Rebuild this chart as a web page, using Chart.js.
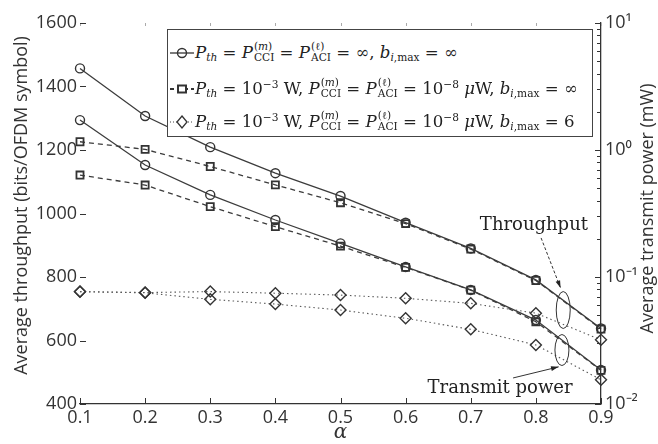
<!DOCTYPE html>
<html>
<head>
<meta charset="utf-8">
<script src="https://cdn.jsdelivr.net/npm/chart.js@4.4.1/dist/chart.umd.min.js"></script>
<style>
  body { margin: 0; background: #fff; }
  #wrap { position: relative; width: 658px; height: 444px; }
  #legend {
    position: absolute; left: 167px; top: 29px; width: 426px; height: 108px;
    box-sizing: border-box; border: 1px solid #444; background: #fff;
    font-family: 'DejaVu Serif', serif; font-size: 16.6px; color: #222;
  }
  #legend .row { position: absolute; left: 2px; line-height: 22px; white-space: nowrap; }
  #legend svg { vertical-align: middle; margin-right: 1px; }
  .ss { display: inline-block; vertical-align: -0.32em; font-size: 0.64em; line-height: 1.05; margin-left: 1px; }
  .ss span { display: block; }
  .sb { font-size: 0.64em; vertical-align: -0.3em; }
  .sp { font-size: 0.64em; vertical-align: 0.55em; }
</style>
</head>
<body>
<div id="wrap">
  <canvas id="chart"></canvas>
  <div id="legend">
    <div class="row" style="top:11px">
      <svg width="24" height="14"><line x1="0" y1="7" x2="24" y2="7" stroke="#333" stroke-width="1.3"/><circle cx="12" cy="7" r="4.5" fill="none" stroke="#333" stroke-width="1.4"/></svg><i>P</i><span class="sb"><i>th</i></span> = <i>P</i><span class="ss"><span>(<i>m</i>)</span><span>CCI</span></span> = <i>P</i><span class="ss"><span>(ℓ)</span><span>ACI</span></span> = ∞, <i>b</i><span class="sb"><i>i</i>,max</span> = ∞
    </div>
    <div class="row" style="top:44px">
      <svg width="24" height="14"><line x1="0" y1="7" x2="24" y2="7" stroke="#333" stroke-width="2" stroke-dasharray="4,3"/><rect x="8" y="3.5" width="8" height="7" fill="#fff" stroke="#333" stroke-width="2"/></svg><i>P</i><span class="sb"><i>th</i></span> = 10<span class="sp">−3</span> W, <i>P</i><span class="ss"><span>(<i>m</i>)</span><span>CCI</span></span> = <i>P</i><span class="ss"><span>(ℓ)</span><span>ACI</span></span> = 10<span class="sp">−8</span> <i>μ</i>W, <i>b</i><span class="sb"><i>i</i>,max</span> = ∞
    </div>
    <div class="row" style="top:77px">
      <svg width="24" height="14"><line x1="0" y1="7" x2="24" y2="7" stroke="#444" stroke-width="1.2" stroke-dasharray="1,2"/><polygon points="12,1 17,7 12,13 7,7" fill="#fff" stroke="#333" stroke-width="1.3"/></svg><i>P</i><span class="sb"><i>th</i></span> = 10<span class="sp">−3</span> W, <i>P</i><span class="ss"><span>(<i>m</i>)</span><span>CCI</span></span> = <i>P</i><span class="ss"><span>(ℓ)</span><span>ACI</span></span> = 10<span class="sp">−8</span> <i>μ</i>W, <i>b</i><span class="sb"><i>i</i>,max</span> = 6
    </div>
  </div>
</div>
<script>
// x values (alpha)
const alphas = ['0.1', '0.2', '0.3', '0.4', '0.5', '0.6', '0.7', '0.8', '0.9'];

// average throughput (bits/OFDM symbol), left axis
const thrInf = [1457, 1307, 1209, 1127, 1055, 971, 890, 791, 638];
const thrSq = [1226, 1202, 1148, 1090, 1034, 968, 888, 789, 636];
const thrB6 = [754, 751, 754, 749, 743, 733, 717, 686, 602];

// average transmit power (mW), right log axis
const powInf = [1.72, 0.762, 0.443, 0.281, 0.184, 0.120, 0.0791, 0.0458, 0.0185];
const powSq = [0.635, 0.530, 0.358, 0.249, 0.175, 0.119, 0.0789, 0.0444, 0.0184];
const powB6 = [0.0766, 0.0751, 0.0667, 0.0612, 0.0549, 0.0473, 0.0387, 0.0292, 0.0155];

// tick labels
const leftTicks = [400, 600, 800, 1000, 1200, 1400, 1600];
const rightDecades = [0.01, 0.1, 1, 10];
const supDigits = { '-': '⁻', '0': '⁰', '1': '¹', '2': '²', '3': '³' };

const lineCol = '#3c3c3c';
const dotCol = '#5a5a5a';

const mk = (data, axis, style) => {
  const base = {
    data,
    yAxisID: axis,
    borderColor: lineCol,
    pointBorderColor: '#333',
    pointBackgroundColor: 'rgba(255,255,255,0)',
    borderWidth: 1.3,
    pointBorderWidth: 1.4,
    tension: 0,
  };
  if (style === 'circle') return { ...base, pointStyle: 'circle', pointRadius: 4.5 };
  if (style === 'rect') return { ...base, pointStyle: 'rect', pointRadius: 5, borderDash: [5, 4], pointBorderWidth: 1.8 };
  return { ...base, pointStyle: 'rectRot', pointRadius: 5.5, borderDash: [1.5, 3], borderColor: dotCol, borderWidth: 1.1 };
};

const inwardTicks = {
  id: 'inwardTicks',
  afterDraw(chart) {
    const { ctx, chartArea: a, scales } = chart;
    ctx.save();
    ctx.strokeStyle = '#333';
    ctx.lineWidth = 1;
    scales.x.ticks.forEach((t, i) => {
      const px = Math.round(scales.x.getPixelForTick(i)) + 0.5;
      ctx.beginPath(); ctx.moveTo(px, a.bottom); ctx.lineTo(px, a.bottom - 6); ctx.stroke();
    });
    ctx.strokeStyle = '#aaa';
    scales.x.ticks.forEach((t, i) => {
      const px = Math.round(scales.x.getPixelForTick(i)) + 0.5;
      ctx.beginPath(); ctx.moveTo(px, a.top); ctx.lineTo(px, a.top + 3); ctx.stroke();
    });
    ctx.strokeStyle = '#333';
    scales.y.ticks.forEach((t, i) => {
      const py = Math.round(scales.y.getPixelForTick(i)) + 0.5;
      ctx.beginPath(); ctx.moveTo(a.left, py); ctx.lineTo(a.left + 6, py); ctx.stroke();
    });
    rightDecades.forEach((d, k) => {
      for (let m = 1; m <= 9; m++) {
        const v = d * m;
        if (k === rightDecades.length - 1 && m > 1) continue;
        const py = Math.round(scales.y1.getPixelForValue(v)) + 0.5;
        const len = m === 1 ? 6 : 4;
        ctx.beginPath(); ctx.moveTo(a.right, py); ctx.lineTo(a.right - len, py); ctx.stroke();
      }
    });
    ctx.restore();
  },
};

const axisTitles = {
  id: 'axisTitles',
  afterDraw(chart) {
    const { ctx, chartArea: a } = chart;
    ctx.save();
    ctx.fillStyle = '#333';
    ctx.font = '18px "Open Sans", sans-serif';
    ctx.textAlign = 'center';
    ctx.textBaseline = 'middle';
    ctx.save();
    ctx.translate(22, (a.top + a.bottom) / 2 - 8);
    ctx.rotate(-Math.PI / 2);
    ctx.fillText('Average throughput (bits/OFDM symbol)', 0, 0);
    ctx.restore();
    ctx.save();
    ctx.translate(648, (a.top + a.bottom) / 2 - 5);
    ctx.rotate(-Math.PI / 2);
    ctx.fillText('Average transmit power (mW)', 0, 0);
    ctx.restore();
    ctx.font = 'italic 20px "DejaVu Serif", serif';
    ctx.fillText('α', (a.left + a.right) / 2, 433);
    ctx.restore();
  },
};

// annotation positions in data units (alpha, left-axis value)
const notes = {
  thrEllipse: { a: 0.842, v: 696, rx: 7, ry: 18.5 },
  powEllipse: { a: 0.84, v: 570, rx: 7, ry: 15.5 },
  thrText: { a: 0.797, v: 964, text: 'Throughput' },
  powText: { a: 0.745, v: 450, text: 'Transmit power' },
  thrArrow: { a0: 0.808, v0: 923, a1: 0.838, v1: 765 },
  powArrow: { a0: 0.765, v0: 482, a1: 0.835, v1: 517 },
};

const annotations = {
  id: 'annotations',
  afterDatasetsDraw(chart) {
    const { ctx, scales } = chart;
    const X = (al) => scales.x.getPixelForValue((al - 0.1) / 0.1);
    const Y = (v) => scales.y.getPixelForValue(v);
    ctx.save();
    ctx.strokeStyle = '#333';
    ctx.fillStyle = '#222';
    ctx.lineWidth = 1;
    [notes.thrEllipse, notes.powEllipse].forEach((e) => {
      ctx.beginPath();
      ctx.ellipse(X(e.a), Y(e.v), e.rx, e.ry, 0, 0, Math.PI * 2);
      ctx.stroke();
    });
    [notes.thrArrow, notes.powArrow].forEach((r, i) => {
      const x0 = X(r.a0), y0 = Y(r.v0), x1 = X(r.a1), y1 = Y(r.v1);
      ctx.setLineDash(i === 0 ? [3, 2] : []);
      ctx.beginPath(); ctx.moveTo(x0, y0); ctx.lineTo(x1, y1); ctx.stroke();
      ctx.setLineDash([]);
      const ang = Math.atan2(y1 - y0, x1 - x0);
      ctx.beginPath();
      ctx.moveTo(x1, y1);
      ctx.lineTo(x1 - 8 * Math.cos(ang - 0.3), y1 - 8 * Math.sin(ang - 0.3));
      ctx.lineTo(x1 - 8 * Math.cos(ang + 0.3), y1 - 8 * Math.sin(ang + 0.3));
      ctx.closePath();
      ctx.fill();
    });
    ctx.font = '18px "DejaVu Serif", serif';
    ctx.textAlign = 'center';
    ctx.textBaseline = 'middle';
    [notes.thrText, notes.powText].forEach((t) => {
      ctx.fillText(t.text, X(t.a), Y(t.v));
    });
    ctx.restore();
  },
};

const tickFont = { family: '"Open Sans", sans-serif', size: 18 };

new Chart(document.getElementById('chart').getContext('2d'), {
  type: 'line',
  data: {
    labels: alphas,
    datasets: [
      mk(thrInf, 'y', 'circle'),
      mk(thrSq, 'y', 'rect'),
      mk(thrB6, 'y', 'diamond'),
      mk(powInf, 'y1', 'circle'),
      mk(powSq, 'y1', 'rect'),
      mk(powB6, 'y1', 'diamond'),
    ],
  },
  options: {
    responsive: true,
    maintainAspectRatio: false,
    animation: false,
    devicePixelRatio: 1,
    layout: { padding: { top: 23, left: 0, right: 0, bottom: 0 } },
    plugins: { legend: { display: false }, tooltip: { enabled: false } },
    scales: {
      x: {
        type: 'category',
        offset: false,
        grid: { display: false, drawTicks: false },
        border: { display: true, color: '#333', width: 1.3 },
        ticks: { font: tickFont, color: '#333', padding: 3, maxRotation: 0, autoSkip: false },
        afterFit: (s) => { s.height = 40; },
      },
      y: {
        position: 'left',
        min: leftTicks[0],
        max: leftTicks[leftTicks.length - 1],
        grid: { display: false, drawTicks: false },
        border: { display: false },
        afterBuildTicks: (s) => { s.ticks = leftTicks.map((v) => ({ value: v })); },
        ticks: { font: tickFont, color: '#333', padding: 3, callback: (v) => String(v) },
        afterFit: (s) => { s.width = 80; },
      },
      y1: {
        type: 'logarithmic',
        position: 'right',
        min: rightDecades[0],
        max: rightDecades[rightDecades.length - 1],
        grid: { display: false, drawTicks: false },
        border: { display: true, color: '#333', width: 1.3 },
        afterBuildTicks: (s) => { s.ticks = rightDecades.map((v) => ({ value: v })); },
        ticks: {
          font: tickFont,
          color: '#333',
          padding: 4,
          autoSkip: false,
          callback: (v) => {
            const e = String(Math.round(Math.log10(v)));
            return '10' + e.split('').map((c) => supDigits[c]).join('');
          },
        },
        afterFit: (s) => { s.width = 57; },
      },
    },
  },
  plugins: [annotations, inwardTicks, axisTitles],
});
</script>
</body>
</html>
